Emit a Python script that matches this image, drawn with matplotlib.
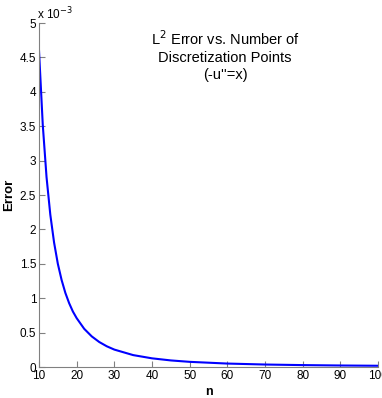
import matplotlib
matplotlib.use('Agg')
import matplotlib.pyplot as plt

plt.rcParams['font.family'] = ['Liberation Sans', 'DejaVu Sans']

# значения ошибки, в единицах 1e-3
n = [10, 11, 12, 13, 14, 15, 16, 17, 18, 19, 20, 22, 24, 26, 28, 30,
     35, 40, 45, 50, 60, 70, 80, 90, 100]
err = [4.60, 3.52, 2.76, 2.215, 1.81, 1.50, 1.265, 1.077, 0.928, 0.806, 0.71,
       0.555, 0.445, 0.363, 0.301, 0.253, 0.173, 0.126, 0.0955, 0.075,
       0.050, 0.036, 0.0276, 0.0218, 0.018]
xticks = [10, 20, 30, 40, 50, 60, 70, 80, 90, 100]
yticks = [0, 0.5, 1, 1.5, 2, 2.5, 3, 3.5, 4, 4.5, 5]

W, H = 382, 398
fig = plt.figure(figsize=(W / 100, H / 100), dpi=100)
ax = fig.add_axes([39 / W, 1 - 367 / H, 339 / W, 344 / H])
ax.plot(n, err, color='#0000ff', lw=1.5)

ax.set_xlim(10, 100)
ax.set_ylim(0, 5)
ax.set_xticks(xticks)
ax.set_yticks(yticks)
ax.set_yticklabels(['0', '0.5', '1', '1.5', '2', '2.5', '3', '3.5', '4', '4.5', '5'])
for s in ['top', 'right']:
    ax.spines[s].set_visible(False)
for s in ['left', 'bottom']:
    ax.spines[s].set_color('#808080')
    ax.spines[s].set_linewidth(0.8)
ax.tick_params(direction='in', length=4, colors='#808080', labelcolor='black',
               labelsize=8.5, pad=2)
for lab in ax.get_xticklabels():
    lab.set_clip_on(False)

ax.set_xlabel('n', fontsize=9, labelpad=3, fontweight='bold')
ax.set_ylabel('Error', fontsize=9.5, labelpad=3, fontweight='bold')

fig.text(37 / W, 1 - 14 / H, r'x 10$^{-3}$', fontsize=8.5, va='center', ha='left')
fig.text(225 / W, 1 - 29 / H, 'L$^2$ Error vs. Number of\nDiscretization Points\n(-u\'\'=x)',
         fontsize=10.5, ha='center', va='top', linespacing=1.3)

fig.savefig('out.png', dpi=100)
